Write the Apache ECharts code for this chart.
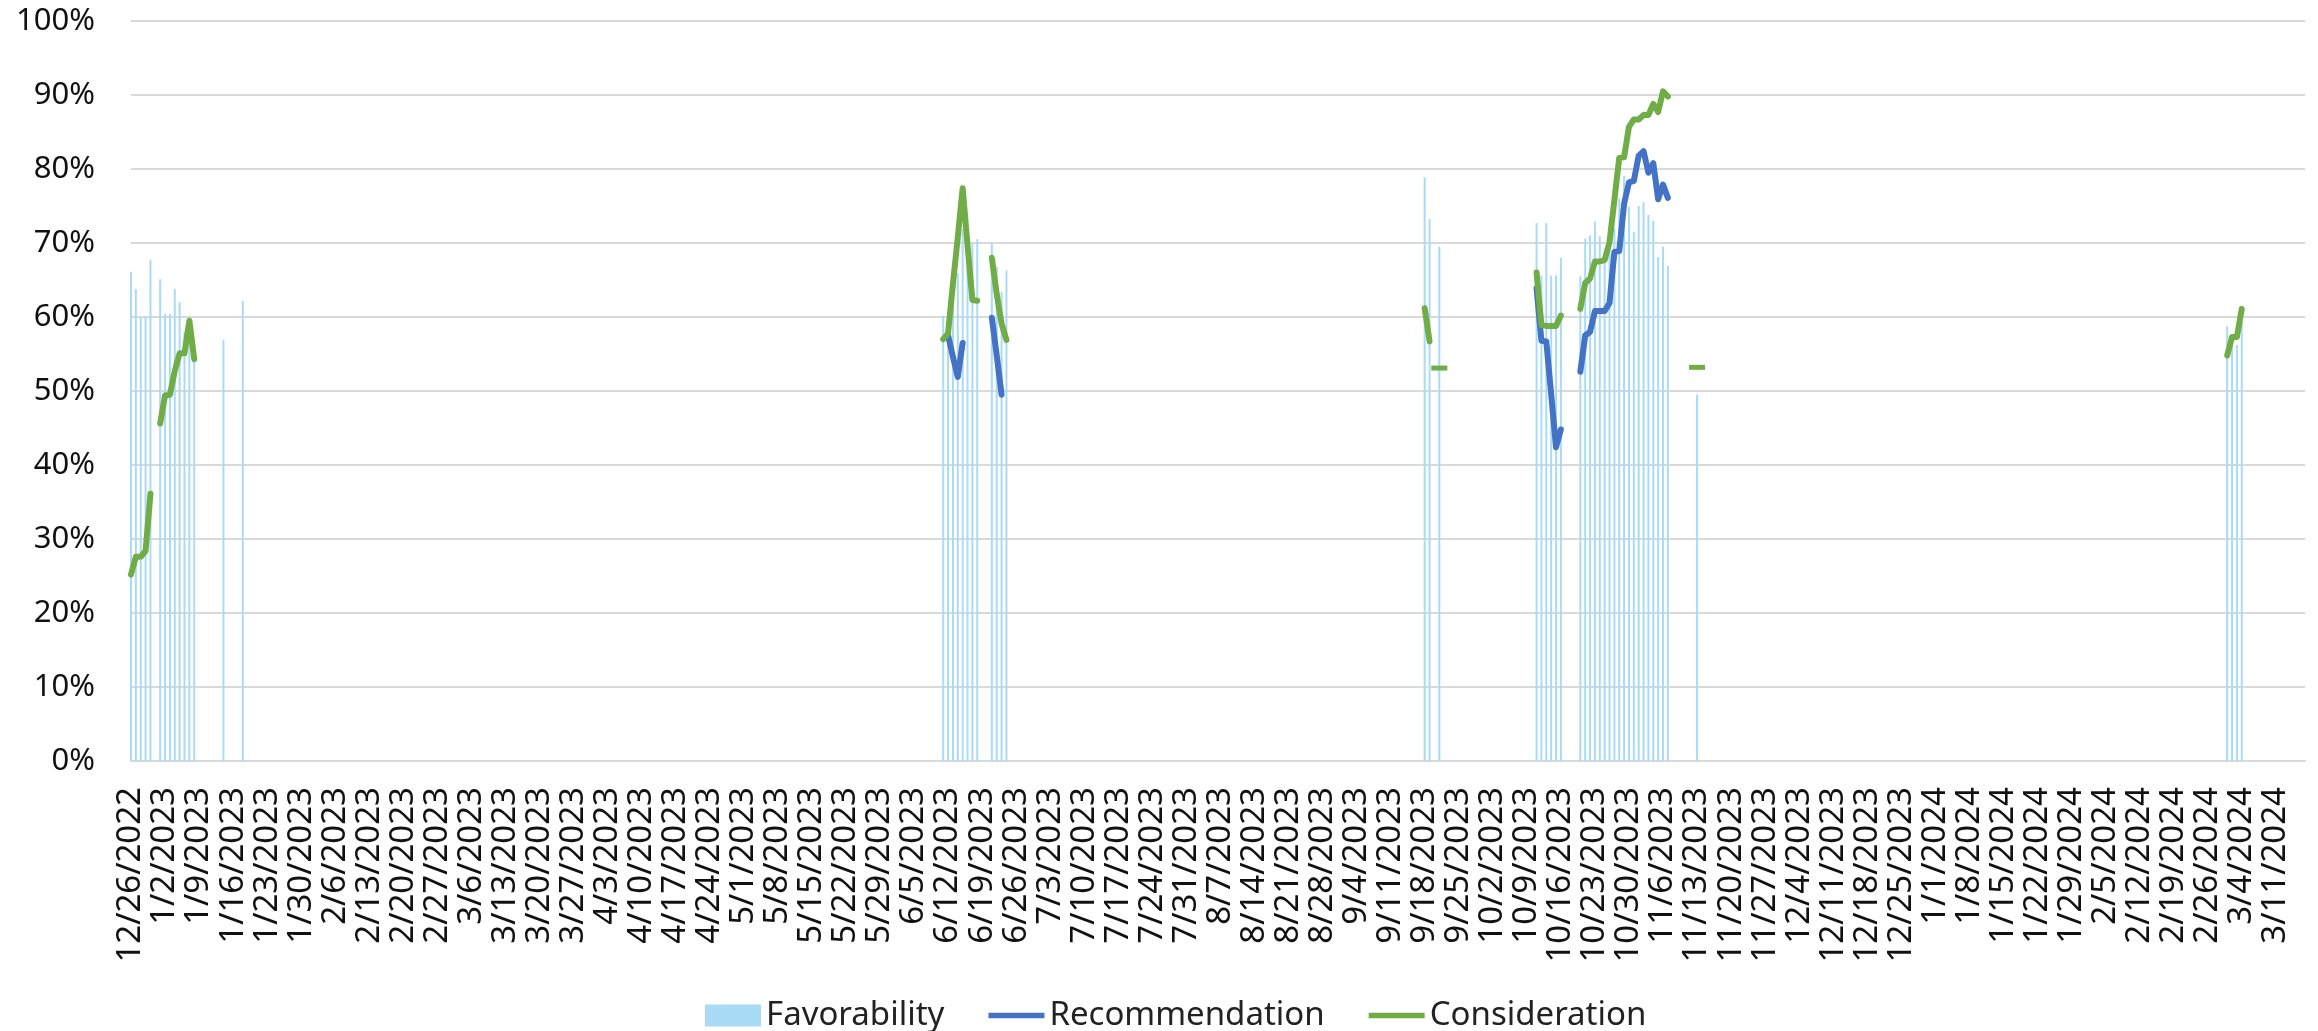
<!DOCTYPE html>
<html>
<head>
<meta charset="utf-8">
<script src="https://cdn.jsdelivr.net/npm/echarts@6/dist/echarts.min.js"></script>
<style>
  html, body { margin: 0; padding: 0; background: #fff; }
  #chart { width: 2318px; height: 1031px; }
</style>
</head>
<body>
<div id="chart"></div>
<script>
// x axis runs day by day, one label per week
const startDate = [2022, 11, 26]
const dayCount = 448

// [date, percent], days without a value are left out
const favorability = [
  ['12/26/2022', 66.1], ['12/27/2022', 63.8], ['12/28/2022', 60.0], ['12/29/2022', 60.0], ['12/30/2022', 67.7],
  ['1/1/2023', 65.1], ['1/2/2023', 60.4], ['1/3/2023', 60.4], ['1/4/2023', 63.8], ['1/5/2023', 62.0],
  ['1/6/2023', 58.0], ['1/7/2023', 57.5], ['1/8/2023', 55.5], ['1/14/2023', 56.9], ['1/18/2023', 62.2],
  ['6/11/2023', 60.2], ['6/12/2023', 57.5], ['6/13/2023', 62.0], ['6/14/2023', 65.9], ['6/15/2023', 71.9],
  ['6/16/2023', 69.7], ['6/17/2023', 69.9], ['6/18/2023', 70.5], ['6/21/2023', 70.0], ['6/22/2023', 66.8],
  ['6/23/2023', 63.4], ['6/24/2023', 66.3],
  ['9/18/2023', 78.9], ['9/19/2023', 73.2], ['9/21/2023', 69.5],
  ['10/11/2023', 72.7], ['10/12/2023', 65.6], ['10/13/2023', 72.7], ['10/14/2023', 65.6], ['10/15/2023', 65.6],
  ['10/16/2023', 68.0], ['10/20/2023', 65.5], ['10/21/2023', 70.6], ['10/22/2023', 71.0], ['10/23/2023', 72.9],
  ['10/24/2023', 70.9], ['10/25/2023', 69.0], ['10/26/2023', 70.0], ['10/27/2023', 72.0], ['10/28/2023', 76.0],
  ['10/29/2023', 79.1], ['10/30/2023', 74.9], ['10/31/2023', 71.5], ['11/1/2023', 75.0], ['11/2/2023', 75.5],
  ['11/3/2023', 73.8], ['11/4/2023', 73.0], ['11/5/2023', 68.1], ['11/6/2023', 69.5], ['11/7/2023', 66.9],
  ['11/13/2023', 49.5],
  ['3/1/2024', 58.7], ['3/2/2024', 57.5], ['3/3/2024', 56.2], ['3/4/2024', 59.5]
]

const recommendation = [
  ['6/12/2023', 57.5], ['6/13/2023', 54.6], ['6/14/2023', 51.9], ['6/15/2023', 56.5],
  ['6/21/2023', 59.9], ['6/22/2023', 54.8], ['6/23/2023', 49.5],
  ['10/11/2023', 63.9], ['10/12/2023', 56.8], ['10/13/2023', 56.7], ['10/14/2023', 49.6], ['10/15/2023', 42.4],
  ['10/16/2023', 44.8],
  ['10/20/2023', 52.6], ['10/21/2023', 57.5], ['10/22/2023', 58.0], ['10/23/2023', 60.8], ['10/24/2023', 60.8],
  ['10/25/2023', 60.8], ['10/26/2023', 61.9], ['10/27/2023', 68.8], ['10/28/2023', 68.9], ['10/29/2023', 75.3],
  ['10/30/2023', 78.2], ['10/31/2023', 78.4], ['11/1/2023', 81.8], ['11/2/2023', 82.4], ['11/3/2023', 79.5],
  ['11/4/2023', 80.8], ['11/5/2023', 75.9], ['11/6/2023', 77.9], ['11/7/2023', 76.1]
]

const consideration = [
  ['12/26/2022', 25.2], ['12/27/2022', 27.6], ['12/28/2022', 27.6], ['12/29/2022', 28.4], ['12/30/2022', 36.1],
  ['1/1/2023', 45.6], ['1/2/2023', 49.4], ['1/3/2023', 49.5], ['1/4/2023', 52.7], ['1/5/2023', 55.1],
  ['1/6/2023', 55.1], ['1/7/2023', 59.5], ['1/8/2023', 54.3],
  ['6/11/2023', 57.0], ['6/12/2023', 57.8], ['6/13/2023', 64.5], ['6/14/2023', 70.8], ['6/15/2023', 77.4],
  ['6/16/2023', 69.7], ['6/17/2023', 62.3], ['6/18/2023', 62.2],
  ['6/21/2023', 68.0], ['6/22/2023', 63.1], ['6/23/2023', 59.1], ['6/24/2023', 56.9],
  ['9/18/2023', 61.2], ['9/19/2023', 56.7], ['9/21/2023', 53.1],
  ['10/11/2023', 66.0], ['10/12/2023', 58.9], ['10/13/2023', 58.8], ['10/14/2023', 58.8], ['10/15/2023', 58.8],
  ['10/16/2023', 60.2],
  ['10/20/2023', 61.1], ['10/21/2023', 64.6], ['10/22/2023', 65.2], ['10/23/2023', 67.5], ['10/24/2023', 67.5],
  ['10/25/2023', 67.7], ['10/26/2023', 70.1], ['10/27/2023', 75.8], ['10/28/2023', 81.5], ['10/29/2023', 81.6],
  ['10/30/2023', 85.7], ['10/31/2023', 86.7], ['11/1/2023', 86.7], ['11/2/2023', 87.3], ['11/3/2023', 87.3],
  ['11/4/2023', 88.8], ['11/5/2023', 87.7], ['11/6/2023', 90.5], ['11/7/2023', 89.8],
  ['11/13/2023', 53.2],
  ['3/1/2024', 54.8], ['3/2/2024', 57.3], ['3/3/2024', 57.3], ['3/4/2024', 61.1]
]

const yTicks = [0, 10, 20, 30, 40, 50, 60, 70, 80, 90, 100]

const categories = []
for (let i = 0; i < dayCount; i++) {
  const d = new Date(Date.UTC(startDate[0], startDate[1], startDate[2] + i))
  categories.push((d.getUTCMonth() + 1) + '/' + d.getUTCDate() + '/' + d.getUTCFullYear())
}

// put the pairs onto the day axis, null where there is no value
const toDaily = (pairs) => {
  const arr = categories.map(() => null)
  pairs.forEach(([date, v]) => {
    const idx = categories.indexOf(date)
    if (idx >= 0) arr[idx] = v
  })
  return arr
}

// a lone point has no neighbour to join, draw it as a short dash
const lineData = (pairs) => {
  const arr = toDaily(pairs)
  return arr.map((v, i) => {
    if (v == null) return null
    const lone = (i === 0 || arr[i - 1] == null) && (i === arr.length - 1 || arr[i + 1] == null)
    return lone ? { value: v, symbol: 'rect', symbolSize: [16, 5] } : v
  })
}

const font = "'Noto Sans', sans-serif"
const lineIcon = 'path://M0,0H60V6H0Z'

const chart = echarts.init(document.getElementById('chart'))
chart.setOption({
  animation: false,
  backgroundColor: '#ffffff',
  textStyle: { fontFamily: font },
  grid: { left: 131, right: 13, top: 21, bottom: 270, containLabel: false },
  legend: {
    left: 700,
    top: 994,
    itemWidth: 56,
    itemHeight: 22,
    itemGap: 44,
    textStyle: { fontSize: 33, color: '#222', fontFamily: font },
    data: [
      { name: 'Favorability', icon: 'rect' },
      { name: 'Recommendation', icon: lineIcon },
      { name: 'Consideration', icon: lineIcon }
    ]
  },
  xAxis: {
    type: 'category',
    data: categories,
    boundaryGap: false,
    axisLine: { lineStyle: { color: '#d9d9d9', width: 2 } },
    axisTick: { show: false },
    axisLabel: {
      interval: 6,
      rotate: 90,
      margin: 26,
      fontSize: 33,
      color: '#111',
      fontFamily: font
    },
    splitLine: { show: false }
  },
  yAxis: {
    type: 'value',
    min: yTicks[0],
    max: yTicks[yTicks.length - 1],
    interval: 10,
    axisLine: { show: false },
    axisTick: { show: false },
    axisLabel: { formatter: '{value}%', fontSize: 31, margin: 36, color: '#111', fontFamily: font },
    splitLine: { lineStyle: { color: '#d9d9d9', width: 2 } }
  },
  series: [
    {
      name: 'Favorability',
      type: 'bar',
      data: toDaily(favorability),
      barWidth: 2,
      itemStyle: { color: '#a9dbf7' }
    },
    {
      name: 'Recommendation',
      type: 'line',
      data: lineData(recommendation),
      color: '#4472c4',
      symbol: 'none',
      showSymbol: true,
      showAllSymbol: true,
      itemStyle: { color: '#4472c4' },
      lineStyle: { color: '#4472c4', width: 6, cap: 'round', join: 'round' }
    },
    {
      name: 'Consideration',
      type: 'line',
      data: lineData(consideration),
      color: '#70ad47',
      symbol: 'none',
      showSymbol: true,
      showAllSymbol: true,
      itemStyle: { color: '#70ad47' },
      lineStyle: { color: '#70ad47', width: 6, cap: 'round', join: 'round' }
    }
  ]
})
</script>
</body>
</html>
